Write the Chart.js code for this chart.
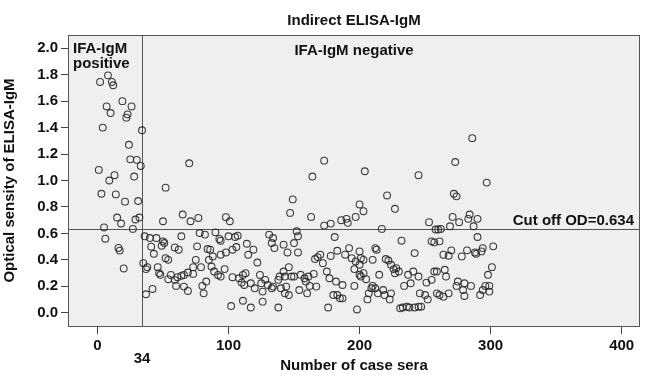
<!DOCTYPE html>
<html>
<head>
<meta charset="utf-8">
<script src="https://cdn.jsdelivr.net/npm/chart.js@4"></script>
<style>
  html, body { margin: 0; padding: 0; background: #fff; }
</style>
</head>
<body>
<canvas id="elisaChart" width="647" height="375"></canvas>
<script>
// case number (x) and optical density (y)
const caseNo = [
  1, 2, 3, 4, 5, 6, 7, 8, 9, 10, 11, 12, 13, 14, 15, 16, 17, 18, 19, 20,
  21, 22, 23, 24, 25, 26, 27, 28, 29, 30, 31, 32, 33, 34,
  35, 36, 37, 37, 38, 40, 41, 42, 43, 45, 46, 47, 48, 49, 50, 50, 51, 52, 52, 54,
  54, 56, 59, 59, 60, 61, 62, 64, 64, 65, 66, 66, 69, 69, 70, 71, 73, 73, 75, 76,
  77, 78, 79, 80, 81, 82, 83, 84, 85, 86, 87, 88, 89, 90, 92, 93, 94, 94, 94, 97,
  98, 98, 100, 101, 102, 103, 103, 105, 106, 107, 108, 110, 111, 111, 112, 113, 114, 115, 117, 117,
  119, 120, 122, 124, 125, 126, 126, 128, 130, 131, 133, 133, 134, 134, 135, 138, 138, 139, 140, 142,
  142, 143, 143, 144, 145, 146, 146, 147, 148, 149, 150, 150, 152, 153, 153, 154, 155, 158, 159, 161,
  160, 162, 163, 164, 165, 166, 167, 168, 170, 172, 173, 173, 175, 176, 177, 178, 178, 180, 181, 182,
  183, 183, 185, 186, 187, 187, 189, 190, 191, 192, 194, 196, 196, 197, 197, 198, 200, 200, 201, 203,
  203, 204, 200, 200, 201, 203, 205, 206, 207, 209, 210, 210, 212, 212, 213, 214, 215, 217, 218, 219,
  220, 221, 222, 223, 224, 224, 226, 227, 227, 228, 230, 231, 232, 233, 234, 236, 237, 238, 239, 241,
  242, 242, 245, 245, 245, 246, 247, 250, 251, 252, 253, 255, 255, 257, 257, 258, 259, 259, 260, 262,
  261, 261, 264, 264, 265, 266, 268, 268, 269, 270, 271, 272, 273, 274, 274, 275, 276, 278, 279, 280,
  280, 282, 283, 284, 285, 286, 287, 288, 289, 290, 290, 292, 293, 294, 294, 296, 297, 298, 299, 299,
  301, 302
];
const odValue = [
  1.08, 1.745, 0.90, 1.40, 0.645, 0.56, 1.56, 1.795, 1.00, 1.51, 1.745, 1.72, 1.04, 0.895, 0.72, 0.49, 0.47, 0.675, 1.60, 0.335,
  0.84, 1.475, 1.50, 1.27, 1.16, 1.56, 0.634, 1.03, 0.705, 1.156, 0.845, 0.72, 1.11, 1.38,
  0.375, 0.578, 0.33, 0.14, 0.345, 0.565, 0.50, 0.18, 0.446, 0.565, 0.345, 0.30, 0.287, 0.507, 0.54, 0.692, 0.527, 0.946, 0.413, 0.40,
  0.254, 0.286, 0.494, 0.249, 0.203, 0.269, 0.477, 0.578, 0.279, 0.743, 0.286, 0.198, 0.304, 0.165, 1.13, 0.692, 0.345, 0.294, 0.40, 0.502,
  0.717, 0.603, 0.345, 0.203, 0.147, 0.591, 0.236, 0.482, 0.40, 0.477, 0.35, 0.426, 0.312, 0.608, 0.286, 0.558, 0.545, 0.439, 0.274, 0.33,
  0.723, 0.456, 0.578, 0.692, 0.051, 0.477, 0.269, 0.573, 0.497, 0.583, 0.261, 0.228, 0.091, 0.286, 0.21, 0.299, 0.522, 0.439, 0.223, 0.04,
  0.477, 0.185, 0.38, 0.286, 0.223, 0.16, 0.084, 0.249, 0.21, 0.591, 0.527, 0.185, 0.565, 0.198, 0.489, 0.249, 0.04, 0.274, 0.185, 0.515,
  0.312, 0.147, 0.274, 0.198, 0.456, 0.134, 0.345, 0.755, 0.274, 0.857, 0.527, 0.274, 0.616, 0.456, 0.578, 0.172, 0.287, 0.261, 0.236, 0.274,
  0.147, 0.203, 0.725, 1.03, 0.294, 0.406, 0.198, 0.421, 0.439, 0.375, 1.15, 0.659, 0.312, 0.04, 0.261, 0.674, 0.43, 0.134, 0.573, 0.236,
  0.469, 0.134, 0.109, 0.70, 0.21, 0.109, 0.439, 0.71, 0.68, 0.489, 0.413, 0.33, 0.203, 0.725, 0.388, 0.025, 0.819, 0.464, 0.274, 0.40,
  0.768, 1.07, 0.363, 0.287, 0.413, 0.299, 0.254, 0.101, 0.147, 0.185, 0.40, 0.203, 0.489, 0.185, 0.477, 0.147, 0.287, 0.634, 0.172, 0.134,
  0.406, 0.887, 0.395, 0.101, 0.363, 0.147, 0.33, 0.786, 0.299, 0.337, 0.312, 0.034, 0.545, 0.04, 0.203, 0.046, 0.287, 0.04, 0.223, 0.312,
  0.451, 0.04, 0.274, 0.046, 1.04, 0.147, 0.046, 0.134, 0.228, 0.101, 0.685, 0.54, 0.249, 0.312, 0.532, 0.629, 0.147, 0.312, 0.629, 0.634,
  0.54, 0.134, 0.439, 0.122, 0.325, 0.274, 0.431, 0.147, 0.654, 0.472, 0.725, 0.90, 1.14, 0.88, 0.203, 0.236, 0.685, 0.426, 0.172, 0.223,
  0.127, 0.472, 0.71, 0.743, 0.203, 1.32, 0.654, 0.456, 0.446, 0.573, 0.71, 0.134, 0.464, 0.489, 0.172, 0.203, 0.984, 0.287, 0.16, 0.203,
  0.345, 0.502
];

const xTicks = [0, 100, 200, 300, 400];
const yTicks = [0, 0.2, 0.4, 0.6, 0.8, 1.0, 1.2, 1.4, 1.6, 1.8, 2.0];
const cutOff = 0.634;
const positiveCount = 34;

const FONT = "'Liberation Sans', Arial, sans-serif";
Chart.defaults.font.family = FONT;
Chart.defaults.font.size = 15;
Chart.defaults.font.weight = 'bold';
Chart.defaults.color = '#111';

const points = caseNo.map((c, i) => ({ x: c, y: odValue[i] }));

// background, reference lines and the text labels inside the plot
const overlay = {
  id: 'overlay',
  beforeDraw(chart) {
    const { ctx, chartArea: a } = chart;
    ctx.save();
    ctx.fillStyle = '#efefef';
    ctx.fillRect(a.left, a.top, a.right - a.left, a.bottom - a.top);
    ctx.restore();
  },
  beforeDatasetsDraw(chart) {
    const { ctx, chartArea: a, scales: { x, y } } = chart;
    const yc = Math.round(y.getPixelForValue(cutOff)) + 0.5;
    const xc = Math.round(x.getPixelForValue(positiveCount)) + 0.5;
    ctx.save();
    ctx.strokeStyle = '#555';
    ctx.lineWidth = 1;
    ctx.beginPath();
    ctx.moveTo(a.left, yc);
    ctx.lineTo(a.right, yc);
    ctx.moveTo(xc, a.top);
    ctx.lineTo(xc, a.bottom);
    ctx.stroke();
    ctx.restore();
  },
  afterDraw(chart) {
    const { ctx, chartArea: a, scales: { x } } = chart;
    ctx.save();
    ctx.strokeStyle = '#555';
    ctx.lineWidth = 1;
    ctx.strokeRect(a.left + 0.5, a.top + 0.5, a.right - a.left - 1, a.bottom - a.top);

    ctx.fillStyle = '#111';
    ctx.font = 'bold 15px ' + FONT;
    ctx.textBaseline = 'alphabetic';
    ctx.textAlign = 'left';
    ctx.fillText('IFA-IgM', a.left + 5, a.top + 18);
    ctx.fillText('positive', a.left + 5, a.top + 33);
    ctx.textAlign = 'center';
    ctx.fillText('IFA-IgM negative', (a.left + a.right) / 2, a.top + 20);
    ctx.fillText('34', x.getPixelForValue(positiveCount), 363);
    ctx.textAlign = 'right';
    ctx.fillText('Cut off OD=0.634', a.right - 6, 225);
    ctx.restore();
  }
};

new Chart(document.getElementById('elisaChart'), {
  type: 'scatter',
  data: {
    datasets: [{
      data: points,
      pointRadius: 3.4,
      pointHoverRadius: 3.4,
      pointBorderWidth: 1.1,
      pointBorderColor: 'rgba(40,40,40,0.9)',
      pointBackgroundColor: 'rgba(0,0,0,0)'
    }]
  },
  options: {
    responsive: false,
    animation: false,
    layout: { padding: { right: 7 } },
    plugins: {
      legend: { display: false },
      tooltip: { enabled: false },
      title: {
        display: true,
        text: 'Indirect ELISA-IgM',
        fullSize: false,
        color: '#111',
        font: { size: 15, weight: 'bold' },
        padding: { top: 12, bottom: 5 }
      }
    },
    scales: {
      x: {
        type: 'linear',
        min: -22.5,
        max: 414,
        afterFit(scale) { scale.height = 49; },
        afterBuildTicks(scale) { scale.ticks = xTicks.map(v => ({ value: v })); },
        grid: { drawOnChartArea: false, drawTicks: true, tickLength: 8, color: '#444' },
        border: { display: false },
        ticks: { padding: 3, maxRotation: 0, autoSkip: false, color: '#111' },
        title: {
          display: true,
          text: 'Number of case sera',
          color: '#111',
          font: { size: 15, weight: 'bold' },
          padding: { top: 0, bottom: 0 }
        }
      },
      y: {
        type: 'linear',
        min: -0.1,
        max: 2.1,
        afterFit(scale) { scale.width = 68; },
        afterBuildTicks(scale) { scale.ticks = yTicks.map(v => ({ value: v })); },
        grid: { drawOnChartArea: false, drawTicks: true, tickLength: 7, color: '#444' },
        border: { display: false },
        ticks: { padding: 3, autoSkip: false, color: '#111', callback: v => v.toFixed(1) },
        title: {
          display: true,
          text: 'Optical sensity of ELISA-IgM',
          color: '#111',
          font: { size: 15, weight: 'bold' },
          padding: { top: 1, bottom: 0 }
        }
      }
    }
  },
  plugins: [overlay]
});
</script>
</body>
</html>
